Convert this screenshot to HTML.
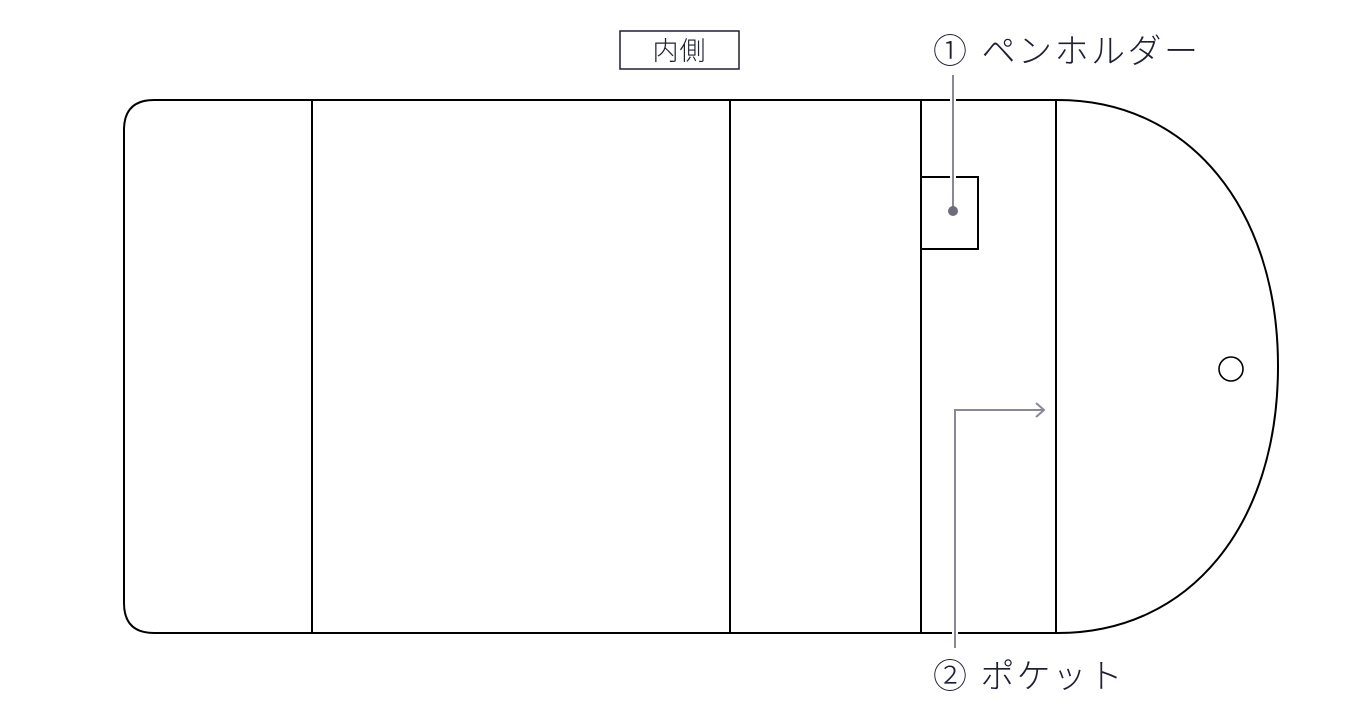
<!DOCTYPE html>
<html><head><meta charset="utf-8"><style>
html,body{margin:0;padding:0;background:#fff;}
svg{display:block}
text{font-family:"Liberation Sans","Noto Sans CJK JP",sans-serif;fill:#1f1f33}
</style></head><body>
<svg width="1362" height="720" viewBox="0 0 1362 720" xmlns="http://www.w3.org/2000/svg">
<rect x="620" y="31" width="119" height="38" fill="none" stroke="#1f1f33" stroke-width="1.5"/>
<text x="679.5" y="60" font-size="26" text-anchor="middle" letter-spacing="1" font-weight="300">内側</text>
<text x="933" y="63" font-size="34" letter-spacing="2.5" font-weight="300">① ペンホルダー</text>
<text x="933" y="688" font-size="34" letter-spacing="2" font-weight="300">② ポケット</text>
<path d="M154 100 H1058 C1190 100 1278 210 1278 366 C1278 525 1190 633 1058 633 H154 Q124 633 124 603 V130 Q124 100 154 100 Z" fill="none" stroke="#000" stroke-width="2"/>
<line x1="312" y1="100" x2="312" y2="633" stroke="#000" stroke-width="2"/>
<line x1="730" y1="100" x2="730" y2="633" stroke="#000" stroke-width="2"/>
<line x1="921" y1="100" x2="921" y2="633" stroke="#000" stroke-width="2"/>
<line x1="1056" y1="100" x2="1056" y2="633" stroke="#000" stroke-width="2"/>
<rect x="921" y="177" width="57" height="72" fill="none" stroke="#000" stroke-width="2"/>
<circle cx="1231" cy="369" r="12" fill="none" stroke="#000" stroke-width="1.6"/>
<g stroke="#fff" stroke-width="6"><line x1="953" y1="96" x2="953" y2="104"/><line x1="953" y1="173" x2="953" y2="181"/><line x1="955" y1="629" x2="955" y2="637"/></g>
<line x1="953" y1="75" x2="953" y2="210" stroke="#8a8896" stroke-width="2"/>
<circle cx="953" cy="211" r="5" fill="#6e6c7c"/>
<polyline points="955,648 955,410 1044,410" fill="none" stroke="#8a8896" stroke-width="2"/>
<polyline points="1036,403 1044,410 1036,417" fill="none" stroke="#8a8896" stroke-width="2"/>
</svg>
</body></html>
